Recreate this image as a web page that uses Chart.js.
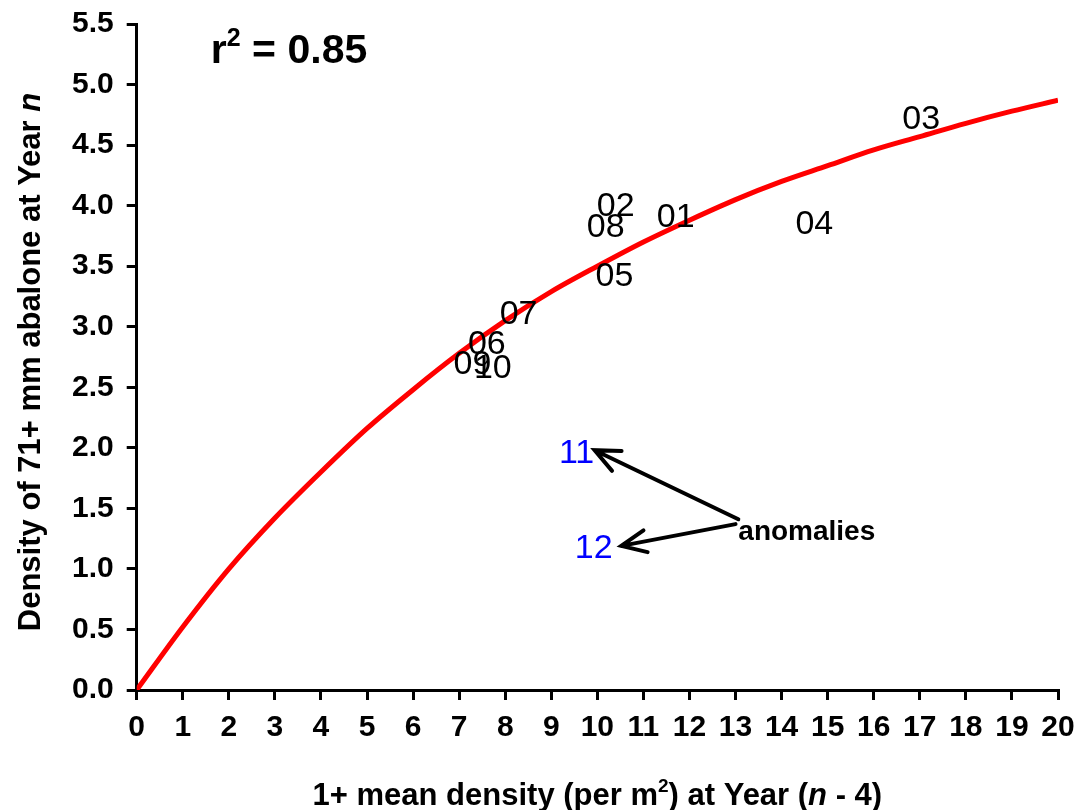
<!DOCTYPE html>
<html>
<head>
<meta charset="utf-8">
<script src="https://cdn.jsdelivr.net/npm/chart.js@4"></script>
<style>
  html, body { margin: 0; padding: 0; background: #fff; }
  #wrap { width: 1076px; height: 810px; }
</style>
</head>
<body>
<div id="wrap"><canvas id="abaloneChart" width="1076" height="810"></canvas></div>
<script>
var FONT = '"Liberation Sans", Arial, sans-serif';

// year labels and their positions (x = 1+ density at n-4, y = 71+ density at n)
var years = ['01', '02', '03', '04', '05', '06', '07', '08', '09', '10', '11', '12'];
var densityX = [11.7, 10.4, 17.03, 14.71, 10.37, 7.6, 8.29, 10.18, 7.29, 7.73, 9.55, 9.92];
var densityY = [3.90, 3.99, 4.71, 3.84, 3.41, 2.85, 3.10, 3.82, 2.69, 2.65, 1.95, 1.17];
var anomalies = ['11', '12'];

// fitted curve
var curveX = [0, 1, 2, 3, 4, 5, 6, 7, 8, 9, 10, 11, 12, 13, 14, 15, 16, 17, 18, 19, 20];
var curveY = [0, 0.52, 1.0, 1.42, 1.8, 2.16, 2.48, 2.78, 3.05, 3.29, 3.5, 3.7, 3.88, 4.05, 4.2, 4.33, 4.46, 4.57, 4.68, 4.78, 4.87];

// axis ticks
var xTicks = [0, 20, 1];
var yTicks = [0, 5.5, 0.5];

// annotation anchors in data units
var anomalyText = [13.06, 1.30];
var arrowTails = [[13.06, 1.41], [13.0, 1.37]];
var arrowHeads = [[9.94, 1.98], [10.52, 1.19]];
var r2Anchor = [1.61, 5.30];

function drawRuns(ctx, runs, cx, cy, size, align, rotate) {
    ctx.save();
    ctx.translate(cx, cy);
    if (rotate) ctx.rotate(-Math.PI / 2);
    var total = 0;
    var fonts = runs.map(function (r) {
        var s = r.sup ? Math.round(size * 0.62) : size;
        var f = (r.italic ? 'italic ' : '') + 'bold ' + s + 'px ' + FONT;
        ctx.font = f;
        var w = ctx.measureText(r.t).width;
        total += w;
        return { f: f, w: w };
    });
    var x = align === 'left' ? 0 : -total / 2;
    ctx.textBaseline = 'alphabetic';
    ctx.textAlign = 'left';
    ctx.fillStyle = '#000';
    runs.forEach(function (r, i) {
        ctx.font = fonts[i].f;
        ctx.fillText(r.t, x, size * 0.36 + (r.sup ? -size * 0.42 : 0));
        x += fonts[i].w;
    });
    ctx.restore();
}

var overlay = {
    id: 'overlay',
    afterDatasetsDraw: function (chart) {
        var ctx = chart.ctx;
        var xs = chart.scales.x, ys = chart.scales.y;
        var area = chart.chartArea;

        // year labels
        ctx.save();
        ctx.font = '34px ' + FONT;
        ctx.textAlign = 'center';
        ctx.textBaseline = 'middle';
        chart.getDatasetMeta(1).data.forEach(function (pt, i) {
            ctx.fillStyle = anomalies.indexOf(years[i]) >= 0 ? '#0000FF' : '#000000';
            ctx.fillText(years[i], pt.x, pt.y);
        });
        ctx.restore();

        // arrows
        ctx.save();
        ctx.strokeStyle = '#000';
        ctx.lineWidth = 4;
        ctx.lineCap = 'round';
        arrowTails.forEach(function (t, i) {
            var x0 = xs.getPixelForValue(t[0]), y0 = ys.getPixelForValue(t[1]);
            var x1 = xs.getPixelForValue(arrowHeads[i][0]), y1 = ys.getPixelForValue(arrowHeads[i][1]);
            var a = Math.atan2(y1 - y0, x1 - x0);
            ctx.beginPath();
            ctx.moveTo(x0, y0);
            ctx.lineTo(x1, y1);
            ctx.moveTo(x1 - 27 * Math.cos(a - 0.42), y1 - 27 * Math.sin(a - 0.42));
            ctx.lineTo(x1, y1);
            ctx.lineTo(x1 - 27 * Math.cos(a + 0.42), y1 - 27 * Math.sin(a + 0.42));
            ctx.stroke();
        });
        ctx.font = 'bold 28px ' + FONT;
        ctx.fillStyle = '#000';
        ctx.textAlign = 'left';
        ctx.textBaseline = 'middle';
        ctx.fillText('anomalies', xs.getPixelForValue(anomalyText[0]), ys.getPixelForValue(anomalyText[1]));
        ctx.restore();

        // r squared
        drawRuns(ctx, [{ t: 'r' }, { t: '2', sup: true }, { t: ' = 0.85' }],
            xs.getPixelForValue(r2Anchor[0]), ys.getPixelForValue(r2Anchor[1]), 41, 'left', false);

        // axis titles
        drawRuns(ctx, [{ t: '1+ mean density (per m' }, { t: '2', sup: true }, { t: ') at Year (' },
            { t: 'n', italic: true }, { t: ' - 4)' }],
            (area.left + area.right) / 2, chart.height - 16, 31, 'center', false);
        drawRuns(ctx, [{ t: 'Density of 71+ mm abalone at Year ' }, { t: 'n', italic: true }],
            29, (area.top + area.bottom) / 2 + 5, 31, 'center', true);
    }
};

// let layout.padding alone decide the edges
function noEdgePadding(scale) {
    scale.paddingLeft = 0;
    scale.paddingRight = 0;
    scale.paddingTop = 0;
    scale.paddingBottom = 0;
}

var ctxAbalone = document.getElementById('abaloneChart').getContext('2d');
var abaloneChart = new Chart(ctxAbalone, {
    type: 'scatter',
    data: {
        datasets: [{
            label: 'fit',
            type: 'line',
            data: curveX.map(function (x, i) { return { x: x, y: curveY[i] }; }),
            borderColor: '#FF0000',
            borderWidth: 5,
            pointRadius: 0,
            fill: false,
            cubicInterpolationMode: 'monotone'
        }, {
            label: 'years',
            data: densityX.map(function (x, i) { return { x: x, y: densityY[i] }; }),
            pointRadius: 0,
            pointHoverRadius: 0
        }]
    },
    options: {
        responsive: false,
        animation: false,
        layout: { padding: { left: 59, right: 18, top: 24, bottom: 54 } },
        plugins: {
            legend: { display: false },
            tooltip: { enabled: false }
        },
        scales: {
            x: {
                type: 'linear',
                min: xTicks[0],
                max: xTicks[1],
                afterFit: noEdgePadding,
                ticks: { stepSize: xTicks[2], color: '#000', font: { family: FONT, size: 30, weight: 'bold' }, padding: 10, maxRotation: 0, autoSkip: false },
                grid: { drawOnChartArea: false, color: '#000', lineWidth: 3, tickLength: 10 },
                border: { color: '#000', width: 3 }
            },
            y: {
                min: yTicks[0],
                max: yTicks[1],
                afterFit: noEdgePadding,
                ticks: {
                    stepSize: yTicks[2], color: '#000', font: { family: FONT, size: 30, weight: 'bold' }, padding: 13,
                    callback: function (v) { return v.toFixed(1); }
                },
                grid: { drawOnChartArea: false, color: '#000', lineWidth: 3, tickLength: 10 },
                border: { color: '#000', width: 3 }
            }
        }
    },
    plugins: [overlay]
});
</script>
</body>
</html>
